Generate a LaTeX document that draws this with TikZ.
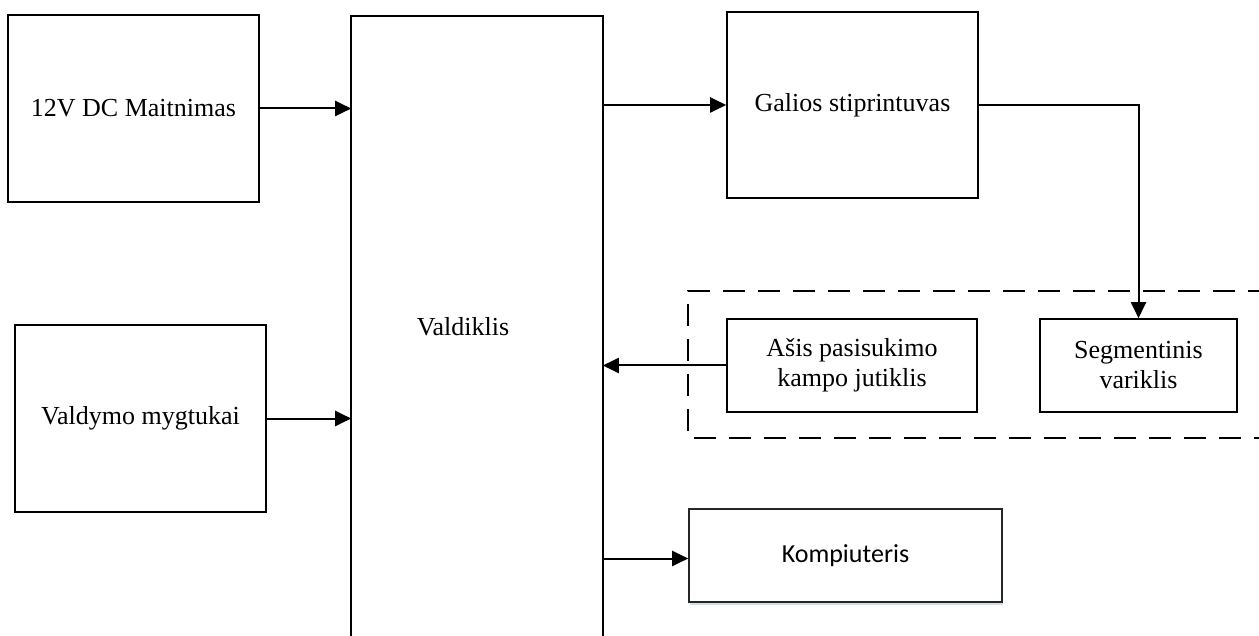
\documentclass[tikz,border=0pt]{standalone}
\usepackage{fontspec}
\setmainfont{Liberation Serif}
\newfontfamily\calib{Carlito}
\usetikzlibrary{arrows.meta,shadows}
\definecolor{shadowblue}{RGB}{214,222,234}
\tikzset{
  box/.style={draw=black, line width=1.6pt, rectangle, inner sep=0pt, align=center,
              font=\fontsize{26}{30}\selectfont},
  arr/.style={line width=2pt, -{Triangle[length=16pt,width=15pt]}},
  grp/.style={line width=1.6pt, dash pattern=on 22pt off 13pt},
}
\begin{document}
\begin{tikzpicture}[x=1pt,y=-1pt]
\useasboundingbox (0,0) rectangle (1259,636);
% blocks
\node[box, minimum width=251pt, minimum height=187pt] (pwr) at (133.5,108.5) {12V DC Maitnimas};
\node[box, minimum width=251pt, minimum height=187pt] (btn) at (140.5,418.5) {Valdymo mygtukai};
\node[box, draw=none, minimum width=250pt, minimum height=619pt] (ctrl) at (477,326.5) {};
\draw[line width=1.6pt] (ctrl.south west) -- (ctrl.north west) -- (ctrl.north east) -- (ctrl.south east);
\node[font=\fontsize{26}{30}\selectfont, inner sep=0pt] (ctrllbl) at (463,327) {Valdiklis};
\node[box, minimum width=251pt, minimum height=186pt] (amp) at (852.5,105) {Galios stiprintuvas};
% dashed group
\coordinate (gtr) at (1270,291);
\coordinate (gtl) at (688,291);
\coordinate (gbl) at (688,438);
\coordinate (gbr) at (1270,438);
\draw[grp] (gtr) -- (gtl) -- (gbl) -- (gbr);
\node[box, fill=white, minimum width=250pt, minimum height=93pt] (sens) at (852,365.5) {Ašis pasisukimo\\kampo jutiklis};
\node[box, fill=white, minimum width=197pt, minimum height=93pt] (motor) at (1138.5,365.5) {Segmentinis\\variklis};
\node[box, fill=white, draw=black!85, minimum width=313pt, minimum height=93pt,
      drop shadow={shadow xshift=1pt, shadow yshift=-2.5pt, fill=shadowblue, opacity=1},
      font=\calib\fontsize{26}{30}\selectfont] (pc) at (845.5,555.5) {Kompiuteris};
% connectors
\draw[arr] (pwr.east) -- (pwr.east -| ctrl.west);
\draw[arr] (btn.east) -- (btn.east -| ctrl.west);
\draw[arr] (amp.west -| ctrl.east) -- (amp.west);
\draw[arr] (amp.east) -- (amp.east -| motor.north) -- (motor.north);
\draw[arr] (sens.west) -- (sens.west -| ctrl.east);
\draw[arr] ([yshift=-3pt]pc.west -| ctrl.east) -- ([yshift=-3pt]pc.west);
\end{tikzpicture}
\end{document}
